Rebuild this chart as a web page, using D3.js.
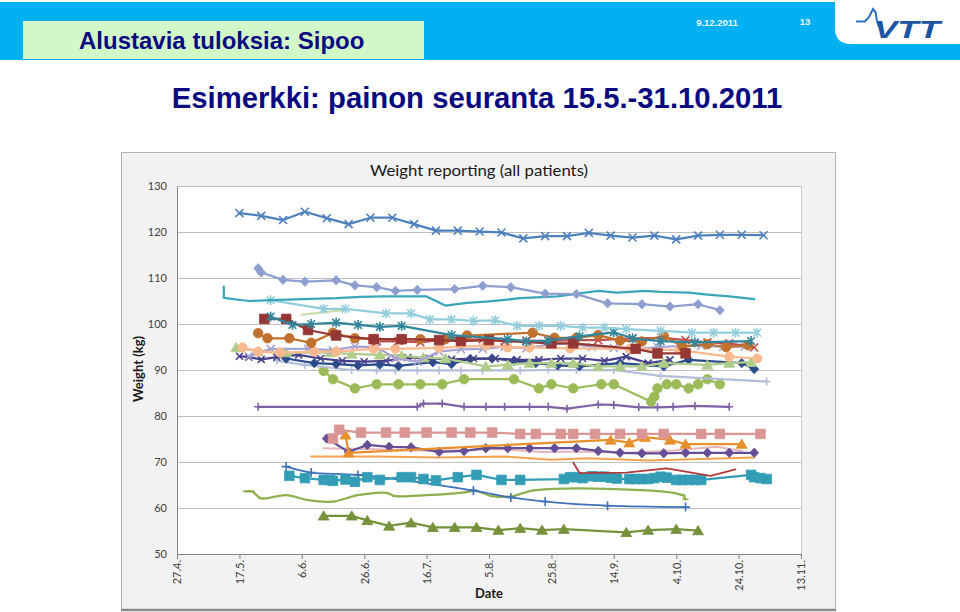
<!DOCTYPE html>
<html><head><meta charset="utf-8">
<script src="https://cdn.jsdelivr.net/npm/d3@7"></script>
<style>body{margin:0;background:#fff;} svg{display:block;}</style>
</head><body>
<svg id="c" width="960" height="612"></svg>
<script>
// ---------- DATA (date "d.m." of 2011, weight kg) ----------
const xTickLabels = ["27.4.","17.5.","6.6.","26.6.","16.7.","5.8.","25.8.","14.9.","4.10.","24.10.","13.11."];
const yTicks = [50,60,70,80,90,100,110,120,130];

const p01 = [["17.5.",124.1],["24.5.",123.5],["31.5.",122.6],["7.6.",124.4],["14.6.",123.0],["21.6.",121.7],["28.6.",123.1],["5.7.",123.1],["12.7.",121.7],["19.7.",120.3],["26.7.",120.3],["2.8.",120.1],["9.8.",119.9],["16.8.",118.6],["23.8.",119.1],["30.8.",119.1],["6.9.",119.8],["13.9.",119.2],["20.9.",118.8],["27.9.",119.2],["4.10.",118.4],["11.10.",119.2],["18.10.",119.4],["25.10.",119.4],["1.11.",119.3]];
const p02 = [["23.5.",112.1],["24.5.",111.2],["31.5.",109.6],["7.6.",109.2],["17.6.",109.5],["23.6.",108.4],["30.6.",108.0],["6.7.",107.2],["13.7.",107.4],["25.7.",107.6],["3.8.",108.3],["12.8.",108.0],["23.8.",106.6],["2.9.",106.5],["12.9.",104.5],["23.9.",104.3],["2.10.",103.8],["11.10.",104.3],["18.10.",103.0]];
const p03 = [["12.5.",108.1],["12.5.",105.7],["20.5.",105.0],["27.5.",105.2],["17.6.",105.6],["25.6.",105.9],["2.7.",106.0],["16.7.",106.0],["22.7.",104.0],["29.7.",104.6],["5.8.",104.9],["15.8.",105.6],["27.8.",106.0],["9.9.",107.2],["15.9.",106.8],["24.9.",107.2],["29.9.",107.0],["8.10.",106.8],["14.10.",106.4],["21.10.",106.0],["29.10.",105.4]];
const p04 = [["27.5.",105.2],["13.6.",103.3],["20.6.",103.3],["3.7.",102.3],["11.7.",102.3],["17.7.",101.0],["24.7.",101.0],["31.7.",100.7],["7.8.",100.8],["14.8.",99.6],["21.8.",99.6],["28.8.",99.6],["4.9.",99.2],["11.9.",99.2],["18.9.",98.9],["29.9.",98.5],["9.10.",98.1],["16.10.",98.1],["23.10.",98.1],["30.10.",98.1]];
const p05 = [["6.6.",102.0],["19.6.",103.0]];
const p06 = [["27.5.",101.6],["3.6.",99.8],["9.6.",100.0],["17.6.",100.3],["24.6.",99.8],["1.7.",99.4],["8.7.",99.6],["24.7.",97.6],["11.8.",96.7],["17.8.",96.2],["24.8.",96.4],["3.9.",97.3],["14.9.",98.2],["20.9.",96.9],["29.9.",96.3],["10.10.",96.0],["28.10.",96.3]];
const p07 = [["25.5.",101.1],["1.6.",101.1],["8.6.",98.7],["17.6.",97.5],["29.6.",96.7],["8.7.",96.7],["20.7.",96.5],["27.7.",96.3],["5.8.",96.5],["25.8.",95.8],["1.9.",95.8],["21.9.",94.6],["28.9.",93.6],["7.10.",93.6]];
const p08 = [["23.5.",98.0],["26.5.",96.9],["2.6.",96.9],["9.6.",95.9],["16.6.",98.1],["23.6.",96.9],["29.6.",96.7],["8.7.",96.7],["14.7.",96.7],["22.7.",96.7],["29.7.",97.5],["19.8.",98.1],["26.8.",97.0],["2.9.",97.0],["9.9.",97.6],["16.9.",96.4],["23.9.",96.2],["30.9.",97.4],["6.10.",95.1],["14.10.",95.6],["20.10.",95.0],["27.10.",95.4]];
const p09 = [["30.6.",96.2],["7.7.",96.3],["14.7.",96.0],["20.7.",96.5],["27.7.",96.5],["3.8.",96.7],["10.8.",96.2],["17.8.",96.4],["24.8.",96.3],["1.9.",96.5],["9.9.",96.5],["20.9.",96.9],["30.9.",97.0],["7.10.",96.5],["14.10.",96.0],["21.10.",95.8],["29.10.",94.9]];
const p10 = [["18.5.",94.9],["23.5.",94.0],["30.5.",93.8],["10.6.",94.0],["17.6.",94.0],["29.6.",94.6],["6.7.",94.6],["20.7.",94.8],["4.8.",95.3],["11.8.",94.9],["18.8.",94.9],["31.8.",94.7],["19.9.",94.6],["5.10.",94.3],["21.10.",92.9],["30.10.",92.5]];
const p11 = [["20.5.",93.0],["27.5.",94.6],["8.6.",94.6],["16.6.",94.3],["23.6.",95.1],["30.6.",95.0],["6.7.",92.5],["13.7.",91.8],["20.7.",94.0],["27.7.",94.5],["3.8.",94.6],["10.8.",95.0],["17.8.",94.7],["24.8.",95.5],["31.8.",95.8],["7.9.",95.0],["14.9.",94.8],["21.9.",94.5],["28.9.",95.0],["5.10.",95.2],["12.10.",95.3],["19.10.",95.0],["26.10.",95.1]];
const p12 = [["16.5.",94.9],["23.5.",94.0],["1.6.",93.8],["15.6.",93.8],["22.6.",93.5],["1.7.",93.3],["8.7.",93.1],["15.7.",92.7],["22.7.",92.5],["4.8.",90.8],["11.8.",91.1],["18.8.",91.5],["25.8.",91.5],["1.9.",91.5],["9.9.",90.8],["16.9.",90.8],["23.9.",90.8],["30.9.",91.5],["14.10.",91.1],["21.10.",91.5],["28.10.",91.7]];
const p13 = [["17.5.",93.0],["20.5.",92.8],["24.5.",92.3],["29.5.",92.8],["5.6.",93.3],["12.6.",92.5],["19.6.",92.0],["26.6.",91.8],["3.7.",92.0],["10.7.",92.7],["17.7.",92.5],["24.7.",92.3],["31.7.",92.5],["7.8.",92.5],["14.8.",92.2],["21.8.",92.2],["28.8.",92.5],["4.9.",92.5],["11.9.",92.0],["18.9.",92.9],["25.9.",91.5],["2.10.",92.2]];
const p14 = [["1.6.",92.5],["10.6.",91.5],["17.6.",91.3],["24.6.",91.0],["1.7.",91.2],["7.7.",90.9],["18.7.",91.7],["24.7.",91.3],["30.7.",92.4],["6.8.",92.5],["13.8.",92.0],["20.8.",91.5],["27.8.",91.0],["3.9.",90.8],["16.9.",91.5],["30.9.",90.8],["8.10.",92.2],["25.10.",91.5],["29.10.",90.2]];
const p15 = [["29.5.",92.0],["7.6.",91.1],["22.6.",90.0],["30.6.",89.9],["6.7.",89.9],["13.7.",89.9],["20.7.",89.9],["27.7.",89.9],["3.8.",89.9],["15.8.",89.9],["24.8.",90.0],["2.9.",90.0],["14.9.",90.0],["29.9.",88.7],["2.11.",87.5]];
const p16 = [["13.6.",89.8],["16.6.",88.0],["23.6.",86.0],["30.6.",86.9],["7.7.",86.9],["14.7.",86.9],["21.7.",86.9],["28.7.",88.0],["13.8.",88.0],["21.8.",86.0],["25.8.",86.9],["1.9.",86.0],["10.9.",86.9],["14.9.",86.9],["26.9.",83.1],["27.9.",84.2],["28.9.",86.0],["1.10.",86.9],["4.10.",86.9],["8.10.",86.0],["11.10.",86.9],["14.10.",88.0],["18.10.",86.9]];
const p17 = [["23.5.",82.0],["13.7.",82.0],["15.7.",82.7],["21.7.",82.7],["28.7.",82.0],["4.8.",82.0],["10.8.",82.0],["18.8.",82.0],["24.8.",82.0],["30.8.",81.6],["9.9.",82.5],["14.9.",82.4],["22.9.",81.9],["28.9.",81.9],["3.10.",82.0],["10.10.",82.2],["21.10.",82.0]];
const p18 = [["16.6.",75.1],["18.6.",77.0],["25.6.",76.4],["3.7.",76.4],["9.7.",76.4],["16.7.",76.4],["24.7.",76.4],["30.7.",76.4],["6.8.",76.4],["15.8.",76.1],["20.8.",76.1],["28.8.",76.1],["1.9.",76.1],["8.9.",76.1],["16.9.",76.1],["23.9.",76.1],["30.9.",76.1],["12.10.",76.1],["18.10.",76.1],["31.10.",76.1]];
const p19 = [["20.6.",75.9],["21.6.",72.0],["13.9.",74.8],["19.9.",74.2],["24.9.",75.4],["2.10.",74.8],["7.10.",73.9],["25.10.",73.9]];
const p20 = [["9.6.",71.2],["30.6.",71.2],["20.7.",71.0],["10.8.",71.2],["25.8.",70.5],["6.9.",70.8],["25.9.",70.3],["29.10.",71.0]];
const p21 = [["14.6.",75.1],["21.6.",72.2],["27.6.",73.7],["4.7.",73.3],["11.7.",73.2],["20.7.",72.2],["28.7.",72.4],["4.8.",73.0],["11.8.",73.0],["18.8.",73.0],["26.8.",73.0],["2.9.",73.0],["9.9.",72.4],["16.9.",72.0],["23.9.",71.9],["30.9.",71.9],["7.10.",72.0],["14.10.",72.0],["21.10.",72.0],["29.10.",72.0]];
const p22 = [["13.6.",73.0],["27.6.",72.8],["11.7.",72.5],["25.7.",72.5],["8.8.",72.8],["22.8.",72.2],["5.9.",72.3],["19.9.",72.0],["3.10.",72.5],["17.10.",73.3],["25.10.",72.4]];
const p23 = [["2.6.",67.0],["7.6.",66.5],["13.6.",66.1],["15.6.",66.1],["16.6.",65.9],["20.6.",66.2],["23.6.",65.7],["27.6.",66.7],["1.7.",66.1],["8.7.",66.7],["11.7.",66.7],["15.7.",66.3],["19.7.",66.0],["26.7.",66.7],["1.8.",67.2],["9.8.",66.1],["15.8.",66.1],["29.8.",66.3],["31.8.",66.7],["2.9.",66.7],["4.9.",66.5],["7.9.",66.9],["9.9.",66.8],["11.9.",66.8],["13.9.",66.6],["15.9.",66.4],["19.9.",66.3],["21.9.",66.3],["23.9.",66.3],["25.9.",66.3],["27.9.",66.5],["29.9.",66.8],["1.10.",66.6],["4.10.",66.1],["6.10.",66.1],["8.10.",66.1],["10.10.",66.1],["12.10.",66.1],["28.10.",67.2],["29.10.",66.7],["31.10.",66.5],["2.11.",66.3]];
const p24 = [["1.9.",69.9],["3.9.",67.6],["18.9.",67.7],["1.10.",68.6],["15.10.",67.0],["23.10.",68.4]];
const p25 = [["1.6.",69.0],["9.6.",67.7],["24.6.",67.2],["31.7.",63.8],["12.8.",62.3],["23.8.",61.4],["12.9.",60.5],["7.10.",60.2]];
const p26 = [["19.5.",63.6],["21.5.",63.6],["24.5.",62.1],["1.6.",62.8],["8.6.",61.7],["16.6.",61.4],["24.6.",62.8],["3.7.",63.3],["6.7.",62.6],["16.7.",62.8],["22.7.",63.0],["30.7.",63.6],["31.7.",63.9],["6.8.",62.6],["12.8.",62.5],["20.8.",63.9],["6.10.",62.8],["7.10.",61.9]];
const p27 = [["13.6.",58.3],["22.6.",58.3],["27.6.",57.3],["4.7.",56.1],["11.7.",56.8],["18.7.",55.8],["25.7.",55.8],["1.8.",55.8],["8.8.",55.2],["15.8.",55.6],["22.8.",55.2],["29.8.",55.4],["18.9.",54.7],["25.9.",55.2],["4.10.",55.4],["11.10.",55.1]];

// ---------- STYLE TABLE (built from the arrays above) ----------
const series = [
  {d:p27, color:"#76923C", marker:"triangle", s:5},
  {d:p26, color:"#8FB050", marker:"dash", s:3, curve:true},
  {d:p25, color:"#4070B8", marker:"plus", s:4.5, curve:true, w:1.75},
  {d:p23, color:"#349DB6", marker:"square", s:4.8},
  {d:p24, color:"#B03A3A", marker:"none", w:1.75},
  {d:p20, color:"#F5A24E", marker:"none", w:2},
  {d:p22, color:"#E5B5BE", marker:"none", w:2},
  {d:p21, color:"#654E96", marker:"diamond", s:4.5},
  {d:p19, color:"#E8902E", marker:"triangle", s:5},
  {d:p18, color:"#D99694", marker:"square", s:4.8},
  {d:p17, color:"#7E62A4", marker:"plus", s:4},
  {d:p16, color:"#9BBB59", marker:"circle", s:4.8},
  {d:p15, color:"#B4BEDA", marker:"plus", s:4},
  {d:p14, color:"#2B4C8C", marker:"diamond", s:4.5},
  {d:p13, color:"#46418C", marker:"x", s:3.5},
  {d:p12, color:"#B0CC8A", marker:"triangle", s:5},
  {d:p11, color:"#A8A3D0", marker:"x", s:4},
  {d:p10, color:"#F9B98F", marker:"circle", s:4.6},
  {d:p09, color:"#C0504D", marker:"x", s:4},
  {d:p08, color:"#C0712E", marker:"circle", s:4.8},
  {d:p07, color:"#953735", marker:"square", s:4.8},
  {d:p06, color:"#31859C", marker:"star", s:3.8},
  {d:p05, color:"#C9DCA6", marker:"none", w:2},
  {d:p04, color:"#92CDDC", marker:"star", s:3.8},
  {d:p03, color:"#3AA6B9", marker:"none"},
  {d:p02, color:"#8E9FCF", marker:"diamond", s:4.5},
  {d:p01, color:"#4F81BD", marker:"x", s:4}
];

// ---------- DRAW ----------
const svg = d3.select("#c");
const parse = d3.timeParse("%d.%m.%Y");
const pd = s => parse(s + "2011");

// header
svg.append("rect").attr("x",0).attr("y",2).attr("width",960).attr("height",58).attr("fill","#00B0F0");
svg.append("rect").attr("x",23).attr("y",21).attr("width",401).attr("height",38).attr("fill","#D3F8C8");
svg.append("text").attr("x",79).attr("y",49).attr("font-family","Liberation Sans, Arial, sans-serif")
  .attr("font-weight","bold").attr("font-size",24).attr("fill","#0A0A80").text("Alustavia tuloksia: Sipoo");
svg.append("path").attr("d","M835,0H960V44H851Q835,44 835,28Z").attr("fill","#ffffff");
svg.append("text").attr("x",717).attr("y",26).attr("text-anchor","middle").attr("font-family","Liberation Sans, Arial, sans-serif")
  .attr("font-weight","bold").attr("font-size",9.5).attr("fill","#EAF6FD").text("9.12.2011");
svg.append("text").attr("x",805).attr("y",25).attr("text-anchor","middle").attr("font-family","Liberation Sans, Arial, sans-serif")
  .attr("font-weight","bold").attr("font-size",9.5).attr("fill","#EAF6FD").text("13");
// VTT logo
svg.append("path").attr("d","M856,21.5H865L869,17L873,9L875.5,12L877,21L879,27")
  .attr("fill","none").attr("stroke","#2A6FC0").attr("stroke-width",2);
svg.append("text").attr("x",874).attr("y",38).attr("font-family","Liberation Sans, Arial, sans-serif")
  .attr("font-weight","bold").attr("font-style","italic").attr("font-size",24).attr("fill","#1B55A3")
  .attr("textLength",66).attr("lengthAdjust","spacingAndGlyphs").text("VTT");

// main title
svg.append("text").attr("x",477).attr("y",108).attr("text-anchor","middle").attr("font-family","Liberation Sans, Arial, sans-serif")
  .attr("font-weight","bold").attr("font-size",29.3).attr("fill","#0A0A80").text("Esimerkki: painon seuranta 15.5.-31.10.2011");

// chart area
svg.append("rect").attr("x",121.5).attr("y",152.5).attr("width",714).attr("height",457).attr("fill","#F2F2F2").attr("stroke","#B5B5B5");
svg.append("line").attr("x1",121).attr("x2",836).attr("y1",610).attr("y2",610).attr("stroke","#8A8A8A").attr("stroke-width",2.5);

const L = 177, R = 801, T = 186, B = 554;
svg.append("rect").attr("x",L).attr("y",T).attr("width",R-L).attr("height",B-T).attr("fill","#ffffff");
svg.append("line").attr("x1",R+0.5).attr("x2",R+0.5).attr("y1",T).attr("y2",B).attr("stroke","#D0D0D0");

const x = d3.scaleTime().domain([pd("27.4."), pd("13.11.")]).range([L, R]);
const y = d3.scaleLinear().domain([50,130]).range([B, T]);

const font = "Lato, 'Open Sans', sans-serif";

// gridlines
const grid = svg.append("g").attr("transform",`translate(${L},0)`)
  .call(d3.axisLeft(y).tickValues(yTicks).tickSize(-(R-L)).tickFormat(""));
grid.select(".domain").remove();
grid.selectAll("line").attr("stroke","#BFBFBF");

// y axis
const ya = svg.append("g").attr("transform",`translate(${L},0)`)
  .call(d3.axisLeft(y).tickValues(yTicks).tickSize(0).tickPadding(10));
ya.select(".domain").attr("stroke","#868686");
ya.selectAll("text").attr("font-family",font).attr("font-size",11).attr("fill","#404040");

// x axis
const xa = svg.append("g").attr("transform",`translate(0,${B})`)
  .call(d3.axisBottom(x).tickValues(xTickLabels.map(pd)).tickSize(5).tickFormat((d,i)=>xTickLabels[i]));
xa.select(".domain").attr("stroke","#868686");
xa.selectAll("line").attr("stroke","#868686");
xa.selectAll("text").attr("font-family",font).attr("font-size",11).attr("fill","#404040")
  .attr("text-anchor","end").attr("transform","translate(0,3) rotate(-90)").attr("x",-3).attr("y",0).attr("dy","0.35em");

// titles
svg.append("text").attr("x",479).attr("y",176).attr("text-anchor","middle").attr("font-family",font)
  .attr("font-size",15).attr("fill","#1a1a1a").attr("textLength",218).attr("lengthAdjust","spacingAndGlyphs")
  .text("Weight reporting  (all patients)");
svg.append("text").attr("transform","translate(143,369) rotate(-90)").attr("text-anchor","middle").attr("font-family",font)
  .attr("font-weight","bold").attr("font-size",13).attr("fill","#1a1a1a").text("Weight (kg)");
svg.append("text").attr("x",489).attr("y",598).attr("text-anchor","middle").attr("font-family",font)
  .attr("font-weight","bold").attr("font-size",13).attr("fill","#1a1a1a").text("Date");

// markers
function markerPath(type, s){
  switch(type){
    case "x": return `M${-s},${-s}L${s},${s}M${-s},${s}L${s},${-s}`;
    case "star": return `M${-s},${-s}L${s},${s}M${-s},${s}L${s},${-s}M0,${-s*1.3}L0,${s*1.3}`;
    case "plus": return `M${-s},0L${s},0M0,${-s}L0,${s}`;
    case "dash": return `M${-s},0L${s},0`;
    case "square": return `M${-s},${-s}H${s}V${s}H${-s}Z`;
    case "diamond": return `M0,${-s*1.05}L${s},0L0,${s*1.05}L${-s},0Z`;
    case "triangle": return `M0,${-s}L${s*1.1},${s*0.85}L${-s*1.1},${s*0.85}Z`;
    case "circle": return d3.symbol(d3.symbolCircle, Math.PI*s*s)();
  }
  return "";
}
const filled = new Set(["square","diamond","triangle","circle"]);

const plot = svg.append("g");
series.forEach(sr => {
  const pts = sr.d.map(p => [x(pd(p[0])), y(p[1])]);
  const line = d3.line().curve(sr.curve ? d3.curveCatmullRom.alpha(0.5) : d3.curveLinear);
  plot.append("path").attr("d", line(pts)).attr("fill","none").attr("stroke",sr.color)
    .attr("stroke-width", sr.w || 2.25).attr("stroke-linejoin","round").attr("stroke-linecap","round");
  if (sr.marker !== "none") {
    plot.append("g").selectAll("path").data(pts).join("path")
      .attr("transform", d => `translate(${d[0]},${d[1]})`)
      .attr("d", markerPath(sr.marker, sr.s))
      .attr("fill", filled.has(sr.marker) ? sr.color : "none")
      .attr("stroke", sr.color)
      .attr("stroke-width", filled.has(sr.marker) ? 0.8 : 1.6);
  }
});
</script></body></html>
